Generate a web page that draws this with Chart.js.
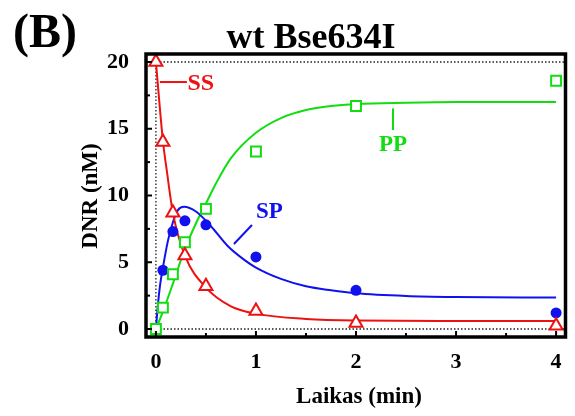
<!DOCTYPE html>
<html>
<head>
<meta charset="utf-8">
<script src="https://cdn.jsdelivr.net/npm/chart.js@4.4.1/dist/chart.umd.min.js"></script>
<style>
    html, body { margin: 0; padding: 0; background: #fff; }
    #wrap { width: 575px; height: 416px; }
</style>
</head>
<body>
<div id="wrap"><canvas id="kinetics" width="575" height="416"></canvas></div>
<script>
// measured points, time in min, DNR in nM
var timeSS = [0, 0.07, 0.17, 0.29, 0.5, 1, 2, 4];
var valuesSS = [20, 14, 8.7, 5.5, 3.2, 1.35, 0.45, 0.25];
var timeSP = [0.07, 0.17, 0.29, 0.5, 1, 2, 4];
var valuesSP = [4.4, 7.3, 8.1, 7.8, 5.4, 2.9, 1.2];
var timePP = [0, 0.07, 0.17, 0.29, 0.5, 1, 2, 4];
var valuesPP = [0, 1.6, 4.1, 6.5, 9.0, 13.3, 16.7, 18.6];

// fitted curves
var fitTimeSS = [0, 0.07, 0.11, 0.17, 0.29, 0.5, 0.75, 1, 1.5, 2, 3, 4];
var fitSS = [20, 14.1, 11.8, 8.7, 5.5, 3.1, 1.7, 1.15, 0.75, 0.63, 0.6, 0.6];
var fitTimeSP = [0, 0.02, 0.04, 0.07, 0.12, 0.17, 0.22, 0.28, 0.4, 0.55, 0.72, 0.88, 1, 1.25, 1.5, 1.75, 2, 2.5, 3, 4];
var fitSP = [0, 1.8, 3.2, 4.6, 6.6, 8.0, 8.9, 9.15, 8.8, 7.7, 6.2, 5.2, 4.6, 3.75, 3.2, 2.9, 2.68, 2.48, 2.4, 2.35];
var fitTimePP = [0, 0.07, 0.17, 0.29, 0.4, 0.5, 0.6, 0.75, 1, 1.25, 1.5, 1.75, 2, 2.5, 3, 4];
var fitPP = [0, 1.3, 3.4, 6.0, 7.9, 9.4, 10.9, 12.8, 14.7, 15.8, 16.4, 16.7, 16.85, 16.95, 17.0, 17.0];

var xTicks = [0, 1, 2, 3, 4];
var yTicks = [0, 5, 10, 15, 20];

var RED = '#ee1111', BLUE = '#1111ee', GREEN = '#11dd11';
var SERIF = '"Liberation Serif", "Times New Roman", serif';

function toXY(xs, ys) {
    return xs.map(function (t, i) { return { x: t, y: ys[i] }; });
}

function drawLine(ctx, x1, y1, x2, y2) {
    ctx.beginPath();
    ctx.moveTo(x1, y1);
    ctx.lineTo(x2, y2);
    ctx.stroke();
}

var plotDecor = {
    id: 'plotDecor',
    beforeDatasetsDraw: function (chart) {
        var ctx = chart.ctx, a = chart.chartArea;
        var sx = chart.scales.x, sy = chart.scales.y;
        ctx.save();
        ctx.strokeStyle = '#222';
        ctx.lineWidth = 1.3;
        ctx.setLineDash([1.5, 2]);
        [0, 20].forEach(function (v) {
            var py = sy.getPixelForValue(v);
            drawLine(ctx, a.left, py, a.right, py);
        });
        var px = sx.getPixelForValue(0);
        drawLine(ctx, px, a.top, px, a.bottom);
        ctx.restore();
    },
    afterDraw: function (chart) {
        var ctx = chart.ctx, a = chart.chartArea;
        var sx = chart.scales.x, sy = chart.scales.y;
        var X = function (v) { return sx.getPixelForValue(v); };
        var Y = function (v) { return sy.getPixelForValue(v); };
        ctx.save();

        // inward ticks
        ctx.strokeStyle = '#000';
        ctx.lineWidth = 2;
        for (var t = 0; t <= 4; t += 0.5) {
            var len = (t % 1 === 0) ? 6 : 4;
            drawLine(ctx, X(t), a.bottom, X(t), a.bottom - len);
        }
        for (var v = 0; v <= 20; v += 2.5) {
            var l2 = (v % 5 === 0) ? 6 : 4;
            drawLine(ctx, a.left, Y(v), a.left + l2, Y(v));
        }

        // frame
        ctx.lineWidth = 3.5;
        ctx.strokeRect(a.left, a.top, a.right - a.left, a.bottom - a.top);

        // series labels with leader lines
        ctx.lineWidth = 2;
        ctx.textBaseline = 'middle';
        ctx.font = 'bold 24px ' + SERIF;
        ctx.strokeStyle = RED; ctx.fillStyle = RED;
        drawLine(ctx, X(0.04), Y(18.5), X(0.31), Y(18.5));
        ctx.textAlign = 'left';
        ctx.fillText('SS', X(0.315), Y(18.4));

        ctx.font = 'bold 23px ' + SERIF;
        ctx.strokeStyle = BLUE; ctx.fillStyle = BLUE;
        drawLine(ctx, X(0.78), Y(6.37), X(0.96), Y(7.79));
        ctx.fillText('SP', X(1.0), Y(8.76));

        ctx.strokeStyle = GREEN; ctx.fillStyle = GREEN;
        drawLine(ctx, X(2.37), Y(16.53), X(2.37), Y(14.9));
        ctx.textAlign = 'center';
        ctx.fillText('PP', X(2.37), Y(13.78));

        // titles
        ctx.fillStyle = '#000';
        ctx.textBaseline = 'alphabetic';
        ctx.textAlign = 'left';
        ctx.font = 'bold 48px ' + SERIF;
        ctx.fillText('(B)', 13, 47);
        ctx.textAlign = 'center';
        ctx.font = 'bold 36px ' + SERIF;
        ctx.fillText('wt Bse634I', 311, 48);

        ctx.textBaseline = 'middle';
        ctx.font = 'bold 23px ' + SERIF;
        ctx.fillText('Laikas (min)', 359, 397);
        ctx.translate(91, 196);
        ctx.rotate(-Math.PI / 2);
        ctx.fillText('DNR (nM)', 0, 0);
        ctx.restore();
    }
};

var ctx = document.getElementById('kinetics').getContext('2d');
new Chart(ctx, {
    type: 'scatter',
    data: {
        datasets: [{
            label: 'SS',
            data: toXY(timeSS, valuesSS),
            pointStyle: 'triangle',
            pointRadius: 7.5,
            borderColor: RED,
            backgroundColor: '#fff',
            borderWidth: 2
        }, {
            label: 'PP',
            data: toXY(timePP, valuesPP),
            pointStyle: 'rect',
            pointRadius: 7,
            borderColor: GREEN,
            backgroundColor: '#fff',
            borderWidth: 2
        }, {
            label: 'SP',
            data: toXY(timeSP, valuesSP),
            pointStyle: 'circle',
            pointRadius: 5.5,
            borderColor: BLUE,
            backgroundColor: BLUE,
            borderWidth: 0
        }, {
            label: 'SS fit',
            type: 'line',
            data: toXY(fitTimeSS, fitSS),
            borderColor: RED,
            borderWidth: 2,
            pointRadius: 0,
            cubicInterpolationMode: 'monotone'
        }, {
            label: 'SP fit',
            type: 'line',
            data: toXY(fitTimeSP, fitSP),
            borderColor: BLUE,
            borderWidth: 2,
            pointRadius: 0,
            cubicInterpolationMode: 'monotone'
        }, {
            label: 'PP fit',
            type: 'line',
            data: toXY(fitTimePP, fitPP),
            borderColor: GREEN,
            borderWidth: 2,
            pointRadius: 0,
            cubicInterpolationMode: 'monotone'
        }]
    },
    options: {
        responsive: false,
        animation: false,
        devicePixelRatio: 1,
        layout: { padding: { top: 54, right: 5.5, left: 0, bottom: 0 } },
        plugins: {
            legend: { display: false },
            tooltip: { enabled: false }
        },
        scales: {
            x: {
                type: 'linear',
                min: -0.099,
                max: 4.094,
                grid: { display: false },
                border: { display: false },
                afterFit: function (scale) { scale.height = 79; },
                afterBuildTicks: function (scale) {
                    scale.ticks = xTicks.map(function (v) { return { value: v }; });
                },
                ticks: {
                    color: '#000',
                    padding: 4,
                    maxRotation: 0,
                    font: { family: SERIF, size: 22, weight: 'bold' }
                }
            },
            y: {
                type: 'linear',
                min: -0.6,
                max: 20.6,
                grid: { display: false },
                border: { display: false },
                afterFit: function (scale) { scale.width = 146; },
                afterBuildTicks: function (scale) {
                    scale.ticks = yTicks.map(function (v) { return { value: v }; });
                },
                ticks: {
                    color: '#000',
                    padding: 9,
                    font: { family: SERIF, size: 22, weight: 'bold' }
                }
            }
        }
    },
    plugins: [plotDecor]
});
</script>
</body>
</html>
